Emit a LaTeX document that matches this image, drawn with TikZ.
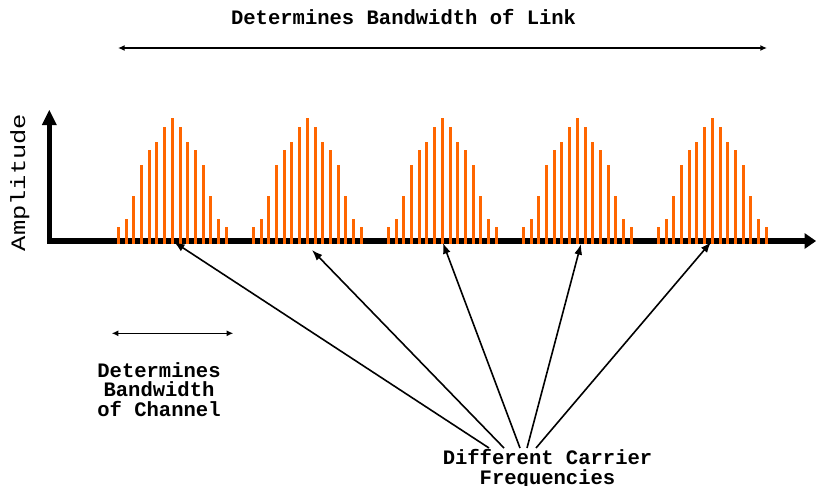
\documentclass[tikz,border=0pt]{standalone}
\usepackage{fontspec}
\setmonofont{Liberation Mono}
\usetikzlibrary{arrows.meta}
\definecolor{barorange}{HTML}{FF6600}
\tikzset{
  lbl/.style={font=\ttfamily\bfseries\fontsize{15.4}{14.8}\selectfont, inner sep=0pt, align=center},
  dbl/.style={line width=1.2pt, {Latex[length=5pt,width=4.5pt]}-{Latex[length=5pt,width=4.5pt]}},
  ptr/.style={line width=1.2pt, -{Latex[length=8pt,width=6pt]}},
  bar/.style={fill=barorange},
  axis/.style={line width=3.8pt, line join=miter}
}
\begin{document}
\begin{tikzpicture}[x=0.75pt,y=-0.75pt]
\useasboundingbox (0,0) rectangle (816,485);
% axes
\draw[axis] (49.3,123) -- (49.3,241) -- (806,241);
\fill (41.8,125) -- (49.3,110) -- (56.8,125) -- cycle;
\fill (804.5,233) -- (816,241) -- (804.5,249) -- cycle;
\node[font=\ttfamily\fontsize{15.4}{15}\selectfont, inner sep=0pt, rotate=90, anchor=base] (amp) at (25,182.5) {\scalebox{1.24}[1]{Amplitude}};
% bars
\foreach \c in {172.3,307.3,442.3,577.3,712.3} {
  \foreach \i/\t in {-7/226.7,-6/218.7,-5/196,-4/165,-3/150,-2/142,-1/126.7,0/117.7,1/126.7,2/142,3/150,4/165,5/196,6/218.7,7/226.7} {
    \fill[bar] ({\c+\i*7.71-1.5},\t) rectangle ({\c+\i*7.71+1.5},243.5);
  }
}
% link bandwidth
\node[lbl] (link) at (403.6,17) {Determines Bandwidth of Link};
\coordinate (la) at (118,48);
\coordinate (lb) at (767,48);
\draw[dbl] (la) -- (lb);
% channel bandwidth
\coordinate (ca) at (111.7,333.3);
\coordinate (cb) at (233.3,333.3);
\draw[dbl] (ca) -- (cb);
\node[lbl] (chan) at (159,389.5) {Determines\\Bandwidth\\of Channel};
% carriers
\node[lbl, font=\ttfamily\bfseries\fontsize{15.4}{15}\selectfont, anchor=north] (carr) at (547.5,449.5) {Different Carrier\\Frequencies};
\coordinate (s1) at (489,448);
\coordinate (s2) at (504,448);
\coordinate (s3) at (520,448);
\coordinate (s4) at (527,448);
\coordinate (s5) at (536,448);
\coordinate (t1) at (174,242);
\coordinate (t2) at (312,250);
\coordinate (t3) at (443,243);
\coordinate (t4) at (581,244);
\coordinate (t5) at (711,242);
\foreach \k in {1,...,5} {\draw[ptr] (s\k) -- (t\k);}
\end{tikzpicture}
\end{document}
